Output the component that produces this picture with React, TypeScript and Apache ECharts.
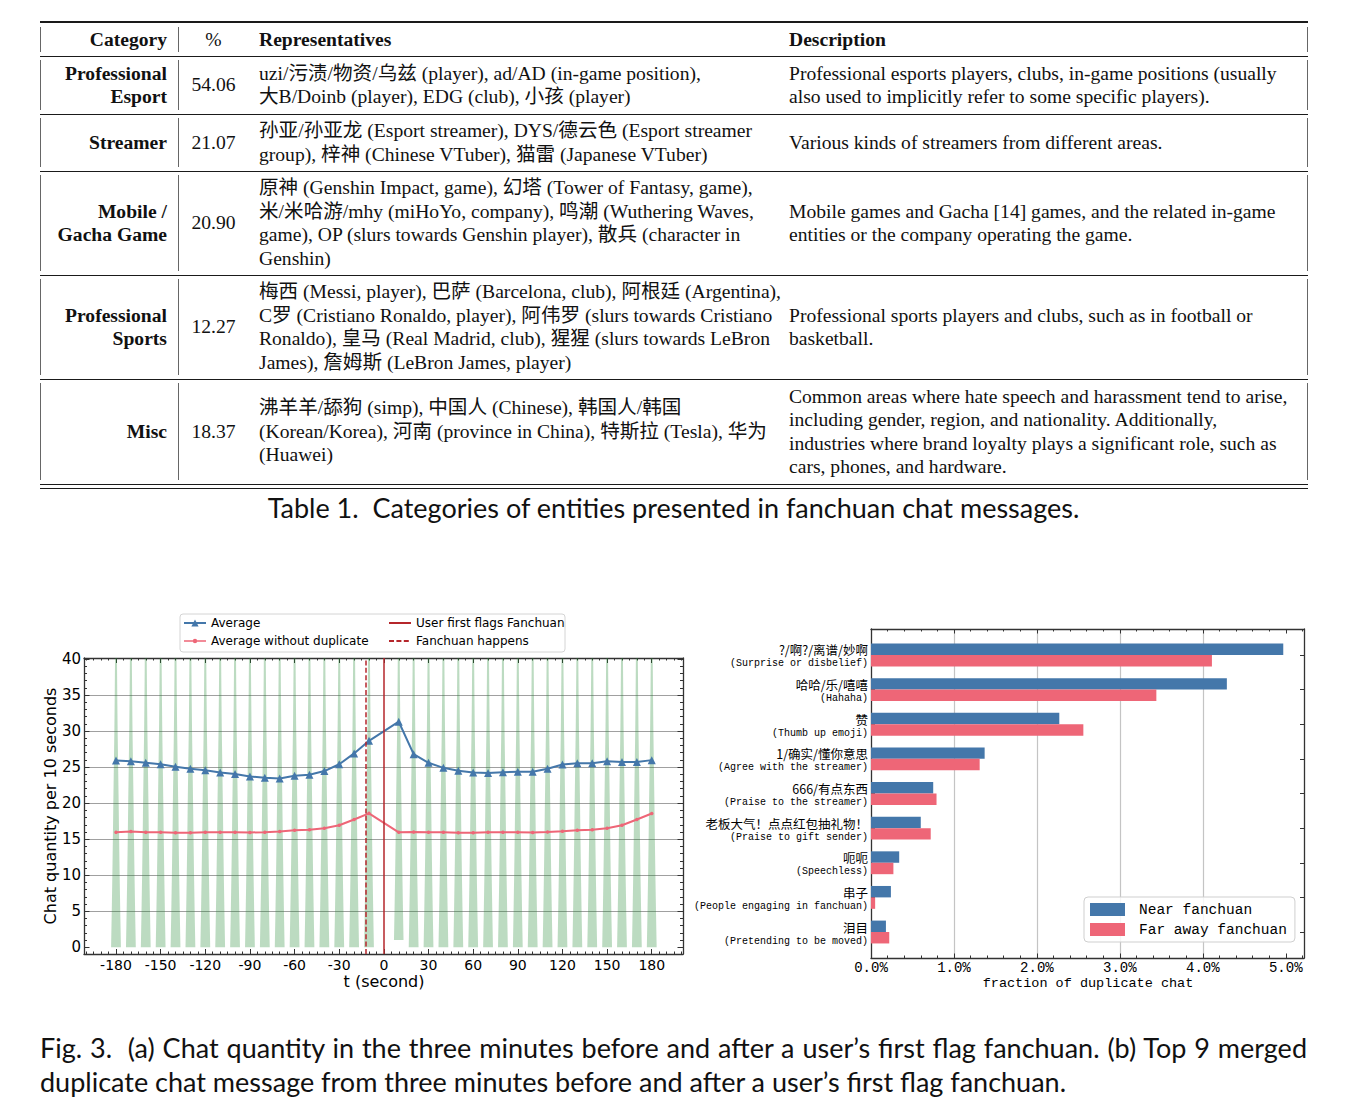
import React, { useEffect, useLayoutEffect, useRef } from 'react';
import * as echarts from 'echarts';

// ---------------- Chart (a) data ----------------
const timeSec = [-180, -170, -160, -150, -140, -130, -120, -110, -100, -90, -80, -70, -60, -50, -40, -30, -20, -10,
  10, 20, 30, 40, 50, 60, 70, 80, 90, 100, 110, 120, 130, 140, 150, 160, 170, 180];
const averageValues = [25.93, 25.8, 25.6, 25.4, 25.05, 24.77, 24.58, 24.26, 24.03, 23.7, 23.52, 23.43, 23.8, 23.95, 24.45, 25.4, 26.9, 28.65,
  31.3, 26.8, 25.6, 24.9, 24.5, 24.26, 24.17, 24.3, 24.35, 24.35, 24.77, 25.37, 25.55, 25.55, 25.8, 25.7, 25.7, 25.97];
const averageNoDupValues = [15.97, 16.06, 15.97, 15.97, 15.88, 15.88, 15.97, 15.97, 15.97, 15.93, 15.97, 16.06, 16.25, 16.3, 16.53, 16.94, 17.73, 18.58,
  15.95, 16.0, 15.97, 15.97, 15.88, 15.88, 15.97, 15.97, 15.97, 15.93, 16.0, 16.1, 16.25, 16.3, 16.53, 16.94, 17.73, 18.56];
const violinMinValues = [0, 0, 0, 0, 0, 0, 0, 0, 0, 0, 0, 0, 0, 0, 0, 0, 0, 0,
  1.0, 0, 0, 0, 0, 0, 0, 0, 0, 0, 0, 0, 0, 0, 0, 0, 0, 0];
const violinProfileY = [0, 5, 10, 15, 20, 25, 30, 35, 40.14];
const violinProfileHalfWidth = [3.3, 2.85, 2.45, 2.1, 1.8, 1.45, 1.1, 0.85, 0.65];
const userFirstFlagT = 0;
const fanchuanHappensT = -12;
const xTickLabels = [-180, -150, -120, -90, -60, -30, 0, 30, 60, 90, 120, 150, 180];
const yTickLabels = [0, 5, 10, 15, 20, 25, 30, 35, 40];

// ---------------- Chart (b) data ----------------
const dupCategoriesCn = ['?/啊?/离谱/妙啊', '哈哈/乐/嘻嘻', '赞', '1/确实/懂你意思', '666/有点东西', '老板大气！点点红包抽礼物！', '呃呃', '串子', '泪目'];
const dupCategoriesEn = ['(Surprise or disbelief)', '(Hahaha)', '(Thumb up emoji)', '(Agree with the streamer)', '(Praise to the streamer)',
  '(Praise to gift sender)', '(Speechless)', '(People engaging in fanchuan)', '(Pretending to be moved)'];
const nearValues = [4.97, 4.29, 2.27, 1.37, 0.75, 0.6, 0.34, 0.24, 0.18];
const farValues = [4.11, 3.44, 2.56, 1.31, 0.79, 0.72, 0.27, 0.05, 0.22];
const categoryIndex = [0, 1, 2, 3, 4, 5, 6, 7, 8];
const pctTicks = [0, 1, 2, 3, 4, 5];

// ---------------- Table text ----------------
const tableHeaders = ['Category', '%', 'Representatives', 'Description'];
const tableCategories = [['Professional', 'Esport'], ['Streamer'], ['Mobile /', 'Gacha Game'], ['Professional', 'Sports'], ['Misc']];
const tablePercents = ['54.06', '21.07', '20.90', '12.27', '18.37'];
const tableRepresentatives = [
  ['uzi/污渍/物资/乌兹 (player), ad/AD (in-game position),', '大B/Doinb (player), EDG (club), 小孩 (player)'],
  ['孙亚/孙亚龙 (Esport streamer), DYS/德云色 (Esport streamer', 'group), 梓神 (Chinese VTuber), 猫雷 (Japanese VTuber)'],
  ['原神 (Genshin Impact, game), 幻塔 (Tower of Fantasy, game),', '米/米哈游/mhy (miHoYo, company), 鸣潮 (Wuthering Waves,',
    'game), OP (slurs towards Genshin player), 散兵 (character in', 'Genshin)'],
  ['梅西 (Messi, player), 巴萨 (Barcelona, club), 阿根廷 (Argentina),', 'C罗 (Cristiano Ronaldo, player), 阿伟罗 (slurs towards Cristiano',
    'Ronaldo), 皇马 (Real Madrid, club), 猩猩 (slurs towards LeBron', 'James), 詹姆斯 (LeBron James, player)'],
  ['沸羊羊/舔狗 (simp), 中国人 (Chinese), 韩国人/韩国', '(Korean/Korea), 河南 (province in China), 特斯拉 (Tesla), 华为', '(Huawei)'],
];
const tableDescriptions = [
  ['Professional esports players, clubs, in-game positions (usually', 'also used to implicitly refer to some specific players).'],
  ['Various kinds of streamers from different areas.'],
  ['Mobile games and Gacha [14] games, and the related in-game', 'entities or the company operating the game.'],
  ['Professional sports players and clubs, such as in football or', 'basketball.'],
  ['Common areas where hate speech and harassment tend to arise,', 'including gender, region, and nationality. Additionally,',
    'industries where brand loyalty plays a significant role, such as', 'cars, phones, and hardware.'],
];
const tableCaption = 'Table 1.  Categories of entities presented in fanchuan chat messages.';
const figCaptionLines = [
  'Fig. 3.  (a) Chat quantity in the three minutes before and after a user’s first flag fanchuan. (b) Top 9 merged',
  'duplicate chat message from three minutes before and after a user’s first flag fanchuan.',
];

// ---------------- styles / layout ----------------
const BLUE = '#4477AA';
const PINK = '#EE6677';
const RED = '#b5262b';
const VIOLIN_FILL = 'rgba(34,136,51,0.30)';
const FRAME = '#333333';
const SANS = "'DejaVu Sans', sans-serif";
const MONO = "'Liberation Mono', 'DejaVu Sans Mono', monospace";
const CJK = "'Noto Sans CJK SC', 'Noto Sans CJK JP', sans-serif";
const SERIF = "'Liberation Serif', 'Noto Sans CJK SC', serif";
const CAPTION_FONT = "Lato, 'Noto Sans', sans-serif";

const X_MIN = -201.5, X_MAX = 201;
const Y_MIN = -0.93, Y_MAX = 40.14;
const P_MAX = 5.22;
const C_MIN = -0.75, C_MAX = 8.75;
const BAR_H = 0.33;

function stepList(a: number, b: number, step: number): number[] {
  const out: number[] = [];
  const n = Math.round((b - a) / step);
  for (let i = 0; i <= n; i++) out.push(Math.round((a + i * step) * 1000) / 1000);
  return out;
}
const xMinorTicks = stepList(-200, 200, 5).filter((v) => v % 30 !== 0);
const yMinorTicks = stepList(0, 40, 1).filter((v) => v % 5 !== 0);
const pctMinorTicks = stepList(0, 5.2, 0.2).filter((v) => Math.abs(v - Math.round(v)) > 1e-6);

function halfWidthAt(y: number): number {
  for (let i = 0; i < violinProfileY.length - 1; i++) {
    const y0 = violinProfileY[i], y1 = violinProfileY[i + 1];
    if (y >= y0 && y <= y1) {
      const f = (y - y0) / (y1 - y0);
      return violinProfileHalfWidth[i] + f * (violinProfileHalfWidth[i + 1] - violinProfileHalfWidth[i]);
    }
  }
  return violinProfileHalfWidth[violinProfileHalfWidth.length - 1];
}

function axisBase(gridIndex: number, position: string, min: number, max: number, ticks: number[], len: number, showLine: boolean, inverse = false): any {
  return {
    type: 'value', gridIndex, position, min, max, inverse,
    axisLine: { show: showLine, onZero: false, lineStyle: { color: FRAME, width: 1.3 } },
    axisTick: { show: true, inside: true, length: len, customValues: ticks, lineStyle: { color: FRAME, width: 1 } },
    axisLabel: { show: false },
    splitLine: { show: false },
  };
}

const pinkLegendIcon = 'path://M0,1.7L22,1.7L22,3.3L0,3.3Z M13.2,2.5A2.2,2.2,0,1,1,8.8,2.5A2.2,2.2,0,1,1,13.2,2.5Z';

function buildOption(): any {
  const xAxis = [
    { ...axisBase(0, 'bottom', X_MIN, X_MAX, xTickLabels, 5, true),
      axisLabel: { show: true, customValues: xTickLabels, margin: 4, fontSize: 14, fontFamily: SANS, color: '#000' } },
    axisBase(0, 'bottom', X_MIN, X_MAX, xMinorTicks, 2.5, false),
    axisBase(0, 'top', X_MIN, X_MAX, xTickLabels, 5, true),
    axisBase(0, 'top', X_MIN, X_MAX, xMinorTicks, 2.5, false),
    { ...axisBase(1, 'bottom', 0, P_MAX, pctTicks, 4.5, true),
      splitNumber: 5,
      axisLabel: { show: true, customValues: pctTicks, margin: 3, fontSize: 14, fontFamily: MONO, color: '#000',
        formatter: (v: number) => v.toFixed(1) + '%' },
      splitLine: { show: true, showMinLine: false, showMaxLine: false, lineStyle: { color: '#c4c4c4', width: 1.2 } } },
    axisBase(1, 'bottom', 0, P_MAX, pctMinorTicks, 2.5, false),
    axisBase(1, 'top', 0, P_MAX, pctTicks, 4.5, true),
    axisBase(1, 'top', 0, P_MAX, pctMinorTicks, 2.5, false),
  ];
  const yAxis = [
    { ...axisBase(0, 'left', Y_MIN, Y_MAX, yTickLabels, 5.5, true),
      splitNumber: 8,
      axisLabel: { show: true, customValues: yTickLabels, margin: 3, fontSize: 15, fontFamily: SANS, color: '#000' },
      splitLine: { show: true, showMinLine: false, showMaxLine: false, lineStyle: { color: '#a0a0a0', width: 1 } } },
    axisBase(0, 'left', Y_MIN, Y_MAX, yMinorTicks, 3, false),
    axisBase(0, 'right', Y_MIN, Y_MAX, yTickLabels, 5.5, true),
    axisBase(0, 'right', Y_MIN, Y_MAX, yMinorTicks, 3, false),
    { ...axisBase(1, 'left', C_MIN, C_MAX, categoryIndex, 4, true, true),
      axisLabel: { show: true, customValues: categoryIndex, margin: 3, padding: [4, 0, 0, 0],
        formatter: (v: number) => {
          const i = Math.round(v);
          return `{cn|${dupCategoriesCn[i]}}\n{en|${dupCategoriesEn[i]}}`;
        },
        rich: {
          cn: { fontFamily: CJK, fontSize: 12.5, lineHeight: 14, color: '#000', align: 'right' },
          en: { fontFamily: MONO, fontSize: 10, lineHeight: 14, color: '#000', align: 'right' },
        } } },
    axisBase(1, 'right', C_MIN, C_MAX, categoryIndex, 4, true, true),
  ];

  const violinSeries = {
    type: 'custom', name: 'violin', xAxisIndex: 0, yAxisIndex: 0, z: 1, silent: true,
    data: timeSec.map((t, i) => [t, violinMinValues[i]]),
    encode: { x: 0, y: 1 },
    renderItem: (_p: any, api: any) => {
      const t = api.value(0);
      const bottom = api.value(1);
      const ys = [bottom].concat(violinProfileY.filter((y) => y > bottom));
      const left: number[][] = [];
      const right: number[][] = [];
      ys.forEach((y) => {
        const w = halfWidthAt(y);
        left.push(api.coord([t - w, y]));
        right.push(api.coord([t + w, y]));
      });
      return { type: 'polygon', shape: { points: left.concat(right.reverse()) }, style: { fill: VIOLIN_FILL } };
    },
  };

  const barSeries = (name: string, values: number[], color: string, o0: number, o1: number) => ({
    type: 'custom', name, xAxisIndex: 4, yAxisIndex: 4, z: 2,
    itemStyle: { color },
    data: values.map((v, i) => [categoryIndex[i], v]),
    encode: { x: 1, y: 0 },
    renderItem: (_p: any, api: any) => {
      const idx = api.value(0);
      const v = api.value(1);
      const a = api.coord([0, idx + o0]);
      const b = api.coord([v, idx + o1]);
      return {
        type: 'rect',
        shape: { x: Math.min(a[0], b[0]), y: Math.min(a[1], b[1]), width: Math.abs(b[0] - a[0]), height: Math.abs(b[1] - a[1]) },
        style: { fill: color },
      };
    },
  });

  return {
    animation: false,
    backgroundColor: 'transparent',
    grid: [
      { left: 84, top: 658, width: 599, height: 296, containLabel: false },
      { left: 871, top: 629, width: 433, height: 329, containLabel: false },
    ],
    xAxis,
    yAxis,
    legend: [
      { data: ['Average', { name: 'Average without duplicate', icon: pinkLegendIcon }],
        orient: 'vertical', left: 183, top: 617, padding: 0, itemWidth: 22, itemHeight: 9, itemGap: 6, selectedMode: false,
        textStyle: { fontFamily: SANS, fontSize: 12, color: '#000' } },
      { data: [{ name: 'User first flags Fanchuan', itemStyle: { opacity: 0 } }, { name: 'Fanchuan happens', itemStyle: { opacity: 0 } }],
        orient: 'vertical', left: 388, top: 617, padding: 0, itemWidth: 22, itemHeight: 9, itemGap: 6, selectedMode: false,
        textStyle: { fontFamily: SANS, fontSize: 12, color: '#000' } },
      { data: ['Near fanchuan', 'Far away fanchuan'], orient: 'vertical', left: 1084, top: 897, icon: 'rect',
        itemWidth: 35, itemHeight: 13, itemGap: 5, padding: [5, 8, 5, 6], selectedMode: false,
        borderColor: '#cfcfcf', borderWidth: 1, borderRadius: 4, backgroundColor: 'rgba(255,255,255,0.85)',
        textStyle: { fontFamily: MONO, fontSize: 14.5, color: '#000', padding: [0, 0, 0, 9] } },
    ],
    graphic: [
      { type: 'rect', shape: { x: 180, y: 614, width: 385, height: 38, r: 3 }, style: { fill: 'rgba(255,255,255,0.85)', stroke: '#d4d4d4', lineWidth: 1 }, z: 0 },
      { type: 'text', x: 50, y: 806, rotation: Math.PI / 2,
        style: { text: 'Chat quantity per 10 seconds', fontFamily: SANS, fontSize: 16, fill: '#000', align: 'center', verticalAlign: 'middle' } },
      { type: 'text', x: 384, y: 981,
        style: { text: 't (second)', fontFamily: SANS, fontSize: 16, fill: '#000', align: 'center', verticalAlign: 'middle' } },
      { type: 'text', x: 1088, y: 983,
        style: { text: 'fraction of duplicate chat', fontFamily: MONO, fontSize: 13.5, fill: '#000', align: 'center', verticalAlign: 'middle' } },
    ],
    series: [
      violinSeries,
      { type: 'line', name: 'Average', xAxisIndex: 0, yAxisIndex: 0, z: 3,
        data: timeSec.map((t, i) => [t, averageValues[i]]),
        symbol: 'triangle', symbolSize: 8, showSymbol: true,
        lineStyle: { color: BLUE, width: 2 }, itemStyle: { color: BLUE } },
      { type: 'line', name: 'Average without duplicate', xAxisIndex: 0, yAxisIndex: 0, z: 3,
        data: timeSec.map((t, i) => [t, averageNoDupValues[i]]),
        symbol: 'circle', symbolSize: 3.5, showSymbol: true,
        lineStyle: { color: PINK, width: 2 }, itemStyle: { color: PINK } },
      { type: 'line', name: 'User first flags Fanchuan', xAxisIndex: 0, yAxisIndex: 0, z: 4, data: [],
        symbol: 'none', lineStyle: { color: RED, width: 1.5, type: 'solid' }, itemStyle: { color: RED },
        markLine: { silent: true, symbol: ['none', 'none'], label: { show: false },
          lineStyle: { color: RED, width: 1.5, type: 'solid' }, data: [{ xAxis: userFirstFlagT }] } },
      { type: 'line', name: 'Fanchuan happens', xAxisIndex: 0, yAxisIndex: 0, z: 4, data: [],
        symbol: 'none', lineStyle: { color: RED, width: 1.5, type: [5, 2.4] }, itemStyle: { color: RED },
        markLine: { silent: true, symbol: ['none', 'none'], label: { show: false },
          lineStyle: { color: RED, width: 1.5, type: [5, 2.4] }, data: [{ xAxis: fanchuanHappensT }] } },
      barSeries('Near fanchuan', nearValues, BLUE, -BAR_H, 0),
      barSeries('Far away fanchuan', farValues, PINK, 0, BAR_H),
    ],
  };
}

// ---------------- table layout ----------------
const headerBox = [24, 55];
const rowBoxes = [[57, 113], [115, 170], [172, 274], [276, 378], [380, 483]];
const hRules = [{ y: 21, h: 2 }, { y: 56, h: 1 }, { y: 114, h: 1 }, { y: 171, h: 1 }, { y: 275, h: 1 }, { y: 379, h: 1 }, { y: 484, h: 1.3 }, { y: 488, h: 1.3 }];
const vRuleX = [40, 178, 1307];
const TABLE_LEFT = 40, TABLE_RIGHT = 1308;

function Cell(props: { left: number; width: number; top: number; height: number; align: string; bold?: boolean; lines: string[] }) {
  const { left, width, top, height, align, bold, lines } = props;
  return (
    <div style={{ position: 'absolute', left, width, top, height, display: 'flex', flexDirection: 'column', justifyContent: 'center',
      alignItems: align === 'right' ? 'flex-end' : align === 'center' ? 'center' : 'flex-start',
      fontWeight: bold ? 700 : 400, whiteSpace: 'nowrap' }}>
      {lines.map((l, i) => (<div key={i} style={{ lineHeight: '23.5px', height: 23.5 }}>{l}</div>))}
    </div>
  );
}

function Table() {
  const boxes = [headerBox].concat(rowBoxes);
  return (
    <div style={{ position: 'absolute', left: 0, top: 0, width: 1369, height: 530, fontFamily: SERIF, fontSize: 19.6, color: '#111' }}>
      {hRules.map((r, i) => (
        <div key={'h' + i} style={{ position: 'absolute', left: TABLE_LEFT, width: TABLE_RIGHT - TABLE_LEFT, top: r.y, height: r.h, background: '#1a1a1a' }} />
      ))}
      {boxes.map((b, i) => vRuleX.map((x, j) => (
        <div key={'v' + i + '_' + j} style={{ position: 'absolute', left: x, width: 1, top: b[0] + 3, height: b[1] - b[0] - 6, background: '#666' }} />
      )))}
      <Cell left={40} width={127} top={headerBox[0]} height={headerBox[1] - headerBox[0]} align="right" bold lines={[tableHeaders[0]]} />
      <Cell left={178} width={71} top={headerBox[0]} height={headerBox[1] - headerBox[0]} align="center" lines={[tableHeaders[1]]} />
      <Cell left={259} width={520} top={headerBox[0]} height={headerBox[1] - headerBox[0]} align="left" bold lines={[tableHeaders[2]]} />
      <Cell left={789} width={518} top={headerBox[0]} height={headerBox[1] - headerBox[0]} align="left" bold lines={[tableHeaders[3]]} />
      {rowBoxes.map((b, i) => (
        <React.Fragment key={'r' + i}>
          <Cell left={40} width={127} top={b[0]} height={b[1] - b[0]} align="right" bold lines={tableCategories[i]} />
          <Cell left={178} width={71} top={b[0]} height={b[1] - b[0]} align="center" lines={[tablePercents[i]]} />
          <Cell left={259} width={520} top={b[0]} height={b[1] - b[0]} align="left" lines={tableRepresentatives[i]} />
          <Cell left={789} width={518} top={b[0]} height={b[1] - b[0]} align="left" lines={tableDescriptions[i]} />
        </React.Fragment>
      ))}
      <div style={{ position: 'absolute', left: 40, width: 1267, top: 490, height: 36, lineHeight: '36px', textAlign: 'center',
        fontFamily: CAPTION_FONT, fontSize: 27, color: '#111', whiteSpace: 'pre' }}>{tableCaption}</div>
    </div>
  );
}

function JustifiedLine(props: { text: string; width: number }) {
  const { text, width } = props;
  const ref = useRef<HTMLSpanElement>(null);
  useLayoutEffect(() => {
    const el = ref.current;
    if (!el) return;
    el.style.wordSpacing = '0px';
    el.style.transform = '';
    const w = el.getBoundingClientRect().width;
    const spaces = (text.match(/ /g) || []).length;
    if (w < width && spaces > 0) el.style.wordSpacing = ((width - w) / spaces) + 'px';
    else if (w > width) el.style.transform = `scaleX(${width / w})`;
  }, [text, width]);
  return <span ref={ref} style={{ display: 'inline-block', whiteSpace: 'pre', transformOrigin: 'left center' }}>{text}</span>;
}

function FigCaption() {
  return (
    <div style={{ position: 'absolute', left: 40, width: 1267, top: 1031, fontFamily: CAPTION_FONT, fontSize: 27, color: '#111' }}>
      <div style={{ height: 34, lineHeight: '34px', whiteSpace: 'nowrap' }}><JustifiedLine text={figCaptionLines[0]} width={1267} /></div>
      <div style={{ height: 34, lineHeight: '34px', textAlign: 'left', whiteSpace: 'pre' }}>{figCaptionLines[1]}</div>
    </div>
  );
}

export default function App() {
  const ref = useRef<HTMLDivElement>(null);
  useEffect(() => {
    if (!ref.current) return;
    const chart = echarts.init(ref.current, null, { renderer: 'svg' });
    chart.setOption(buildOption());
    return () => { chart.dispose(); };
  }, []);
  return (
    <div style={{ position: 'absolute', left: 0, top: 0, width: 1369, height: 1109, background: '#fff', overflow: 'hidden' }}>
      <div ref={ref} style={{ position: 'absolute', left: 0, top: 0, width: 1369, height: 1109 }} />
      <Table />
      <FigCaption />
    </div>
  );
}
